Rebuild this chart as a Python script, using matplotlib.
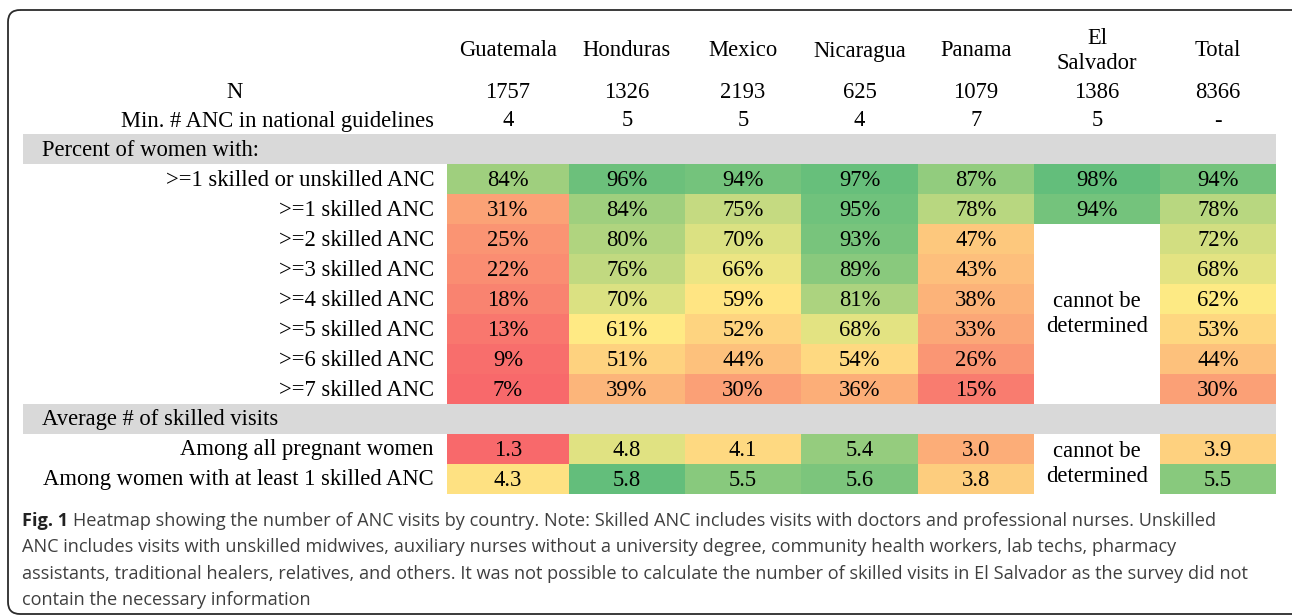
import matplotlib
matplotlib.use("Agg")
import matplotlib.pyplot as plt
import numpy as np
from matplotlib.colors import to_rgb
from matplotlib.patches import Rectangle, FancyBboxPatch

countries = ["Guatemala", "Honduras", "Mexico", "Nicaragua", "Panama", "El\nSalvador", "Total"]
n_women = ["1757", "1326", "2193", "625", "1079", "1386", "8366"]
min_anc = ["4", "5", "5", "4", "7", "5", "-"]

pct_rows = [">=1 skilled or unskilled ANC", ">=1 skilled ANC", ">=2 skilled ANC", ">=3 skilled ANC",
            ">=4 skilled ANC", ">=5 skilled ANC", ">=6 skilled ANC", ">=7 skilled ANC"]
# percent of women, one list per row; None = cannot be determined
pct_values = [
    [84, 96, 94, 97, 87, 98, 94],
    [31, 84, 75, 95, 78, 94, 78],
    [25, 80, 70, 93, 47, None, 72],
    [22, 76, 66, 89, 43, None, 68],
    [18, 70, 59, 81, 38, None, 62],
    [13, 61, 52, 68, 33, None, 53],
    [9, 51, 44, 54, 26, None, 44],
    [7, 39, 30, 36, 15, None, 30],
]

avg_rows = ["Among all pregnant women", "Among women with at least 1 skilled ANC"]
avg_values = [
    [1.3, 4.8, 4.1, 5.4, 3.0, None, 3.9],
    [4.3, 5.8, 5.5, 5.6, 3.8, None, 5.5],
]

caption_lines = [
    "Heatmap showing the number of ANC visits by country. Note: Skilled ANC includes visits with doctors and professional nurses. Unskilled",
    "ANC includes visits with unskilled midwives, auxiliary nurses without a university degree, community health workers, lab techs, pharmacy",
    "assistants, traditional healers, relatives, and others. It was not possible to calculate the number of skilled visits in El Salvador as the survey did not",
    "contain the necessary information",
]

# excel-like 3-colour scale: min red, median yellow, max green
LOW, MID, HIGH = np.array(to_rgb("#F8696B")), np.array(to_rgb("#FFEB84")), np.array(to_rgb("#63BE7B"))


def scale_color(v, lo, mid, hi):
    if v <= mid:
        t = (v - lo) / (mid - lo)
        return LOW + (MID - LOW) * t
    t = (v - mid) / (hi - mid)
    return MID + (HIGH - MID) * t


def stats(rows):
    vals = [v for r in rows for v in r if v is not None]
    return min(vals), np.percentile(vals, 50), max(vals)


W, H = 1292, 616
fig = plt.figure(figsize=(W / 100, H / 100), dpi=100)
ax = fig.add_axes([0, 0, 1, 1])
ax.set_xlim(0, W)
ax.set_ylim(H, 0)
ax.axis("off")

serif = "Liberation Serif"
fs = 16.3
edges = [447, 569, 685, 801, 918, 1034, 1160, 1276]
centers = [(a + b) / 2 for a, b in zip(edges[:-1], edges[1:])]
label_x = 434
row_h = 30

# frame
ax.add_patch(FancyBboxPatch((8, 10), W + 20, H - 12, boxstyle="round,pad=0,rounding_size=12",
                            fc="none", ec="#2b2b2b", lw=1.3, clip_on=True))

# header
for cx, name in zip(centers, countries):
    ax.text(cx, 51, name, ha="center", va="center", fontsize=fs, family=serif, linespacing=1.25)
ax.text(235, 92, "N", ha="center", va="center", fontsize=fs, family=serif)
ax.text(label_x, 121, "Min. # ANC in national guidelines", ha="right", va="center", fontsize=fs, family=serif)
for cx, n, m in zip(centers, n_women, min_anc):
    ax.text(cx, 92, n, ha="center", va="center", fontsize=fs, family=serif)
    ax.text(cx, 121, m, ha="center", va="center", fontsize=fs, family=serif)


def section(y0, title, labels, values, fmt):
    ax.add_patch(Rectangle((23, y0), edges[-1] - 23, row_h, fc="#D9D9D9", ec="none"))
    ax.text(42, y0 + row_h / 2 + 1, title, ha="left", va="center", fontsize=fs, family=serif)
    lo, mid, hi = stats(values)
    top = y0 + row_h
    missing = []
    for i, (lab, row) in enumerate(zip(labels, values)):
        y = top + i * row_h
        ax.text(label_x, y + row_h / 2 + 1, lab, ha="right", va="center", fontsize=fs, family=serif)
        for j, v in enumerate(row):
            if v is None:
                missing.append((j, i))
                continue
            ax.add_patch(Rectangle((edges[j], y), edges[j + 1] - edges[j], row_h,
                                   fc=scale_color(v, lo, mid, hi), ec="none"))
            ax.text(centers[j], y + row_h / 2 + 1, fmt(v), ha="center", va="center", fontsize=fs, family=serif)
    if missing:
        j = missing[0][0]
        rows_missing = [i for _, i in missing]
        ymid = top + (min(rows_missing) + max(rows_missing) + 1) / 2 * row_h
        ax.text(centers[j], ymid, "cannot be\ndetermined", ha="center", va="center",
                fontsize=fs, family=serif, linespacing=1.3)
    return top + len(labels) * row_h


y_end = section(134, "Percent of women with:", pct_rows, pct_values, lambda v: f"{v}%")
section(y_end, "Average # of skilled visits", avg_rows, avg_values, lambda v: f"{v:.1f}")

# caption
cap_fs = 13.1
fig.canvas.draw()
r = fig.canvas.get_renderer()
t = ax.text(22, 521, "Fig. 1", ha="left", va="center", fontsize=cap_fs, family="Open Sans",
            fontweight="bold", color="#222222")
bb = t.get_window_extent(renderer=r)
x_after = bb.x1 + 5
ax.text(x_after, 521, caption_lines[0], ha="left", va="center", fontsize=cap_fs,
        family="Open Sans", color="#3f3f3f")
for k, line in enumerate(caption_lines[1:], start=1):
    ax.text(22, 521 + k * 26.3, line, ha="left", va="center", fontsize=cap_fs,
            family="Open Sans", color="#3f3f3f")

fig.savefig("out.png", dpi=100)
